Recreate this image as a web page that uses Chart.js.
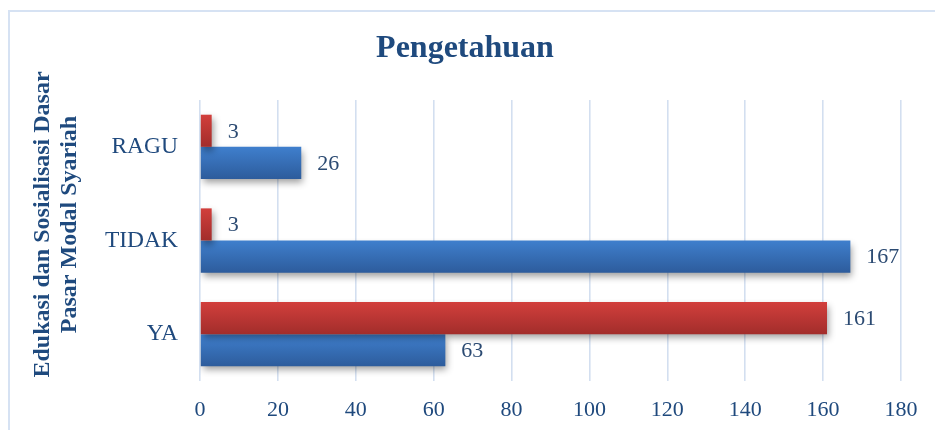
<!DOCTYPE html>
<html>
<head>
<meta charset="utf-8">
<script src="https://cdn.jsdelivr.net/npm/chart.js@4.4.0/dist/chart.umd.min.js"></script>
<style>
html,body{margin:0;padding:0;background:#fff;}
#wrap{position:absolute;left:0;top:0;width:935px;height:430px;}
#frame{position:absolute;left:8px;top:10px;width:940px;height:440px;border:2px solid #D6E2F3;box-sizing:border-box;}
</style>
</head>
<body>
<div id="frame"></div>
<div id="wrap"><canvas id="c" width="935" height="430"></canvas></div>
<script>
const categories = ['RAGU', 'TIDAK', 'YA'];
const seriesRed = [3, 3, 161];
const seriesBlue = [26, 167, 63];
const xTicks = [0, 20, 40, 60, 80, 100, 120, 140, 160, 180];
const titleText = 'Pengetahuan';
const yTitle = ['Edukasi dan Sosialisasi Dasar', 'Pasar Modal Syariah'];

const TEXT = '#1F497D';
const FONT = "'Liberation Serif', 'Times New Roman', serif";

function grad(c, top, bottom) {
  const chart = c.chart;
  const meta = chart.getDatasetMeta(c.datasetIndex);
  const el = meta.data[c.dataIndex];
  if (!el || el.y === undefined || isNaN(el.y) || !el.height) return top;
  const h = Math.abs(el.height);
  const g = chart.ctx.createLinearGradient(0, el.y - h / 2, 0, el.y + h / 2);
  g.addColorStop(0, top);
  g.addColorStop(1, bottom);
  return g;
}

const shadowPlugin = {
  id: 'shadow',
  beforeDatasetsDraw(chart) {
    const ctx = chart.ctx;
    ctx.save();
    ctx.shadowColor = 'rgba(0,0,0,0.38)';
    ctx.shadowBlur = 7;
    ctx.shadowOffsetX = 2;
    ctx.shadowOffsetY = 4;
  },
  afterDatasetsDraw(chart) {
    chart.ctx.restore();
    const ctx = chart.ctx;
    ctx.save();
    ctx.font = '22px ' + FONT;
    ctx.fillStyle = '#2B4A72';
    ctx.textAlign = 'left';
    ctx.textBaseline = 'middle';
    chart.data.datasets.forEach((ds, di) => {
      const meta = chart.getDatasetMeta(di);
      meta.data.forEach((bar, i) => {
        ctx.fillText(String(ds.data[i]), bar.x + 16, bar.y + 1);
      });
    });
    ctx.restore();
  }
};

const yTitlePlugin = {
  id: 'ytitle',
  afterDraw(chart) {
    const ctx = chart.ctx;
    ctx.save();
    ctx.font = 'bold 24px ' + FONT;
    ctx.fillStyle = '#1F4A7E';
    ctx.textAlign = 'center';
    ctx.textBaseline = 'middle';
    const cy = 224.5;
    const xs = [43, 70];
    yTitle.forEach((line, i) => {
      ctx.save();
      ctx.translate(xs[i], cy);
      ctx.rotate(-Math.PI / 2);
      ctx.fillText(line, 0, 0);
      ctx.restore();
    });
    ctx.restore();
  }
};

const chart = new Chart(document.getElementById('c'), {
  type: 'bar',
  data: {
    labels: categories,
    datasets: [
      {
        label: 'Red',
        data: seriesRed,
        backgroundColor: c => grad(c, '#D23F3C', '#A22D2B'),
        borderWidth: 0
      },
      {
        label: 'Blue',
        data: seriesBlue,
        backgroundColor: c => grad(c, '#3F7FCD', '#2D5C9C'),
        borderWidth: 0
      }
    ]
  },
  options: {
    indexAxis: 'y',
    responsive: false,
    animation: false,
    events: [],
    layout: { padding: { left: 29, right: 34, top: 0, bottom: 0 } },
    plugins: {
      legend: { display: false },
      tooltip: { enabled: false },
      title: {
        display: true,
        text: titleText,
        color: '#1F4A7E',
        font: { family: FONT, size: 32, weight: 'bold', lineHeight: 1.2 },
        padding: { top: 30, bottom: 31.6 }
      }
    },
    datasets: {
      bar: { barPercentage: 1.0, categoryPercentage: 0.686 }
    },
    scales: {
      x: {
        min: 0,
        max: 180,
        afterBuildTicks: s => { s.ticks = xTicks.map(v => ({ value: v })); },
        ticks: {
          color: TEXT,
          font: { family: FONT, size: 22, lineHeight: 1.2 },
          padding: 16,
          maxRotation: 0
        },
        grid: { color: '#D3DFF0', lineWidth: 1.6, drawTicks: false },
        border: { display: false },
        afterFit: s => { s.height = 49; }
      },
      y: {
        ticks: {
          color: TEXT,
          font: { family: FONT, size: 23.5, lineHeight: 1.2 },
          padding: 22
        },
        grid: { display: false, drawTicks: false },
        border: { display: false },
        afterFit: s => { s.width = 171; }
      }
    }
  },
  plugins: [shadowPlugin, yTitlePlugin]
});
chart.update();
</script>
</body>
</html>
